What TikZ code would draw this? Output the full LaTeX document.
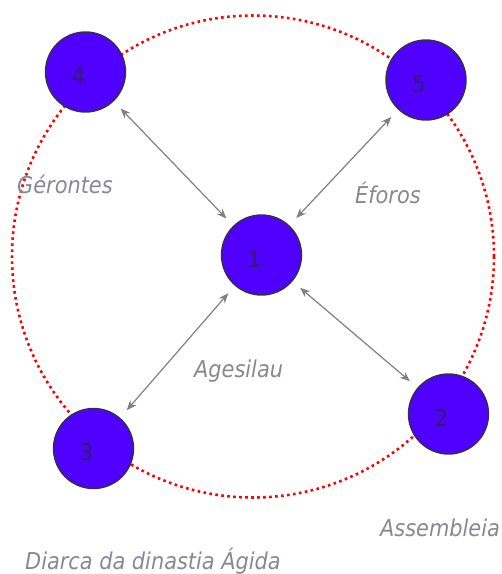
\documentclass[tikz,border=0pt]{standalone}
\usepackage{fontspec}
\setsansfont{DejaVu Sans Condensed}
\usetikzlibrary{arrows.meta}
\definecolor{spartaviolet}{RGB}{80,0,255}
\definecolor{spartaedge}{RGB}{50,50,60}
\definecolor{spartanum}{RGB}{50,30,100}
\definecolor{spartared}{RGB}{255,0,0}
\definecolor{spartagray}{RGB}{128,128,128}
\definecolor{spartatext}{RGB}{135,135,150}
\tikzset{
  ball/.style = {circle, draw=spartaedge, line width=1.4pt, fill=spartaviolet,
                 minimum size=80pt, inner sep=0pt},
  num/.style  = {xshift=-7pt, yshift=-4pt, inner sep=0pt,
                 font=\sffamily\fontsize{23}{27}\selectfont, text=spartanum},
  link/.style = {{Stealth[length=10pt,width=8pt]}-{Stealth[length=10pt,width=8pt]},
                 line width=1.2pt, draw=spartagray, shorten <=10pt, shorten >=10pt},
  ring/.style = {draw=spartared, line width=2.6pt, dash pattern=on 2.6pt off 3.4pt},
  lbl/.style  = {font=\sffamily\itshape\fontsize{23.2}{28}\selectfont,
                 text=spartatext, anchor=base west, inner sep=0pt},
}
\begin{document}
\begin{tikzpicture}[x=1pt,y=-1pt]
    \useasboundingbox (0,0) rectangle (502,574);

    % dotted ring behind the council
    \draw[ring] (253,256.5) circle (241pt);

    % the five circles
    \node[ball, label={[num]center:1}] (agesilau)   at (261.5,255) {};
    \node[ball, label={[num]center:2}] (assembleia) at (448.5,414) {};
    \node[ball, label={[num]center:3}] (diarca)     at (93.5,448.5) {};
    \node[ball, label={[num]center:4}] (gerontes)   at (85.5,72) {};
    \node[ball, label={[num]center:5}] (eforos)     at (426,80) {};

    % links from the centre
    \foreach \n in {gerontes, eforos, diarca, assembleia}
      \draw[link] (agesilau) -- (\n);

    % captions
    \node[lbl] (tgerontes)   at (17,193)  {Gérontes};
    \node[lbl] (teforos)     at (355,203) {Éforos};
    \node[lbl] (tagesilau)   at (194,377) {Agesilau};
    \node[lbl] (tassembleia) at (380,536) {Assembleia};
    \node[lbl] (tdiarca)     at (25,569)  {Diarca da dinastia Ágida};
\end{tikzpicture}
\end{document}
